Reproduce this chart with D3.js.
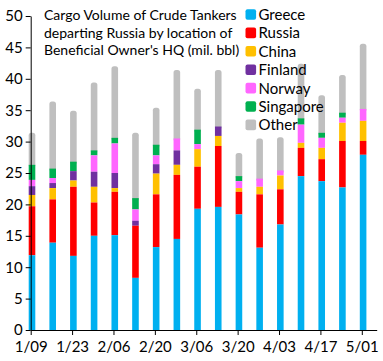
<!DOCTYPE html>
<html>
<head>
<meta charset="utf-8">
<script src="https://cdn.jsdelivr.net/npm/d3@7"></script>
<style>
  body { margin: 0; background: #fff; }
  text { font-family: Lato, "Liberation Sans", sans-serif; fill: #000; }
  .axis path, .axis line { stroke: #000; }
</style>
</head>
<body>
<div id="chart-area"></div>
<script>
// weekly cargo volume, mil. bbl
var weeks = ["1/09","1/16","1/23","1/30","2/06","2/13","2/20","2/27","3/06","3/13","3/20","3/27","4/03","4/10","4/17","4/24","5/01"]
var greece    = [11.9,13.9,11.8,15.0,15.1, 8.3,13.2,14.5,19.3,19.6,18.4,13.1,16.8,24.5,23.7,22.7,27.9]
var russia    = [ 7.8, 6.9,11.0, 5.3, 6.9, 8.3, 8.4,10.2, 6.7, 9.7, 3.6, 8.5, 5.6, 4.5, 3.5, 7.4, 2.2]
var china     = [ 1.8, 1.8, 1.0, 2.5, 0.6, 0.0, 3.3, 1.6, 2.8, 1.6, 0.6, 1.2, 2.2, 0.8, 1.8, 2.9, 3.2]
var finland   = [ 1.4, 0.8, 1.5, 2.4, 2.4, 0.8, 1.5, 2.3, 0.0, 1.5, 0.0, 0.0, 0.0, 0.0, 0.0, 0.0, 0.0]
var norway    = [ 1.0, 0.8, 0.0, 2.6, 4.7, 1.8, 1.4, 1.9, 0.8, 0.0, 1.1, 1.3, 0.8, 2.9, 1.6, 0.8, 1.9]
var singapore = [ 2.4, 1.5, 1.5, 0.8, 0.9, 1.8, 1.7, 0.0, 2.3, 0.0, 0.8, 0.0, 0.0, 1.0, 0.8, 0.8, 0.0]
var other     = [ 5.1,10.7, 8.1,10.8,11.4,10.4, 5.9,10.9, 6.5, 9.0, 3.7, 6.4, 5.3, 8.7, 6.0, 6.0,10.4]
var yTicks = [0,5,10,15,20,25,30,35,40,45,50]

var keys = ["Greece","Russia","China","Finland","Norway","Singapore","Other"]
var colors = ["#00B0F0","#FF0000","#FFC000","#7030A0","#FF66FF","#00B050","#BFBFBF"]
var seriesVals = [greece, russia, china, finland, norway, singapore, other]
var titleLines = ["Cargo Volume of Crude Tankers","departing Russia by location of","Beneficial Owner's HQ (mil. bbl)"]

var width = 383, height = 361

var data = weeks.map(function(w, i){
  var row = {week: w, i: i}
  keys.forEach(function(k, j){ row[k] = seriesVals[j][i] })
  return row
})

var svg = d3.select("#chart-area").append("svg")
    .attr("width", width)
    .attr("height", height)

// axis runs a bit past last week, like the excel date axis
var x = d3.scaleLinear().domain([0, 16.72]).range([30.7, 376.7])
var y = d3.scaleLinear().domain([0, 50]).range([330, 16])
var color = d3.scaleOrdinal().domain(keys).range(colors)

var stacked = d3.stack().keys(keys)(data)
var barW = 6.6

// draw top series first so lower ones cover the rounded extension
var layers = svg.append("g").selectAll("g")
  .data(stacked.slice().reverse())
  .enter().append("g")
    .attr("fill", function(d){ return color(d.key) })

layers.selectAll("rect")
  .data(function(d){ return d.map(function(p){ p.key = d.key; return p }) })
  .enter().append("rect")
    .attr("x", function(d){ return x(d.data.i) + 1.3 - barW / 2 })
    .attr("width", barW)
    .attr("y", function(d){ return y(d[1]) })
    .attr("height", function(d){
      var h = y(d[0]) - y(d[1])
      return d.key == "Other" ? h + 3 : h
    })
    .attr("rx", function(d){ return d.key == "Other" ? 2.5 : 0 })

var xAxisCall = d3.axisBottom(x)
  .tickValues(d3.range(0, weeks.length, 2))
  .tickFormat(function(d){ return weeks[d] })
  .tickSizeInner(5).tickSizeOuter(0)

svg.append("g")
  .attr("class", "x axis")
  .attr("transform", "translate(0," + y(0) + ")")
  .call(xAxisCall)
  .call(function(g){ g.selectAll("text").attr("y", 8).attr("dy", "0.95em").style("font-size", "15px") })

var yAxisCall = d3.axisLeft(y)
  .tickValues(yTicks)
  .tickSizeInner(5).tickSizeOuter(0)

svg.append("g")
  .attr("class", "y axis")
  .attr("transform", "translate(" + x(0) + ",0)")
  .call(yAxisCall)
  .call(function(g){ g.selectAll("text").attr("x", -8).style("font-size", "15px") })

svg.selectAll("path.domain").attr("stroke", "#000")
svg.selectAll("text").attr("font-family", null)

// title
svg.append("g").selectAll("text")
  .data(titleLines)
  .enter().append("text")
    .attr("x", 44)
    .attr("y", function(d, i){ return 20 + i * 17.5 })
    .style("font-size", "14px")
    .text(function(d){ return d })

// legend
var legend = svg.append("g").selectAll("g")
  .data(keys)
  .enter().append("g")
    .attr("transform", function(d, i){ return "translate(245.5," + (14.5 + i * 18.4) + ")" })

legend.append("rect")
  .attr("x", 0).attr("y", -5.3)
  .attr("width", 10.6).attr("height", 10.6)
  .attr("rx", 2)
  .attr("fill", function(d){ return color(d) })

legend.append("text")
  .attr("x", 13)
  .attr("dy", "0.36em")
  .style("font-size", "15px")
  .text(function(d){ return d })
</script>
</body>
</html>
